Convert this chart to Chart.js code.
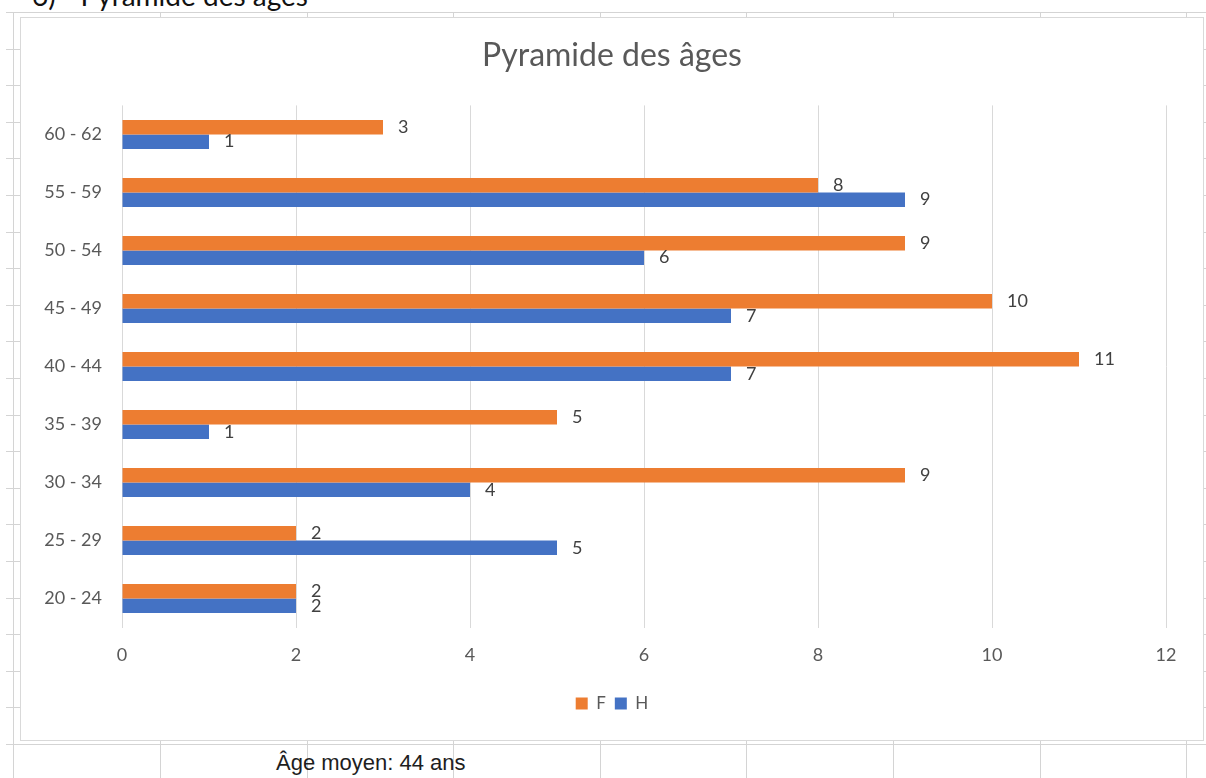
<!DOCTYPE html>
<html>
<head>
<meta charset="utf-8">
<script src="https://cdn.jsdelivr.net/npm/chart.js@4.4.1/dist/chart.umd.min.js"></script>
<style>
  html, body { margin:0; padding:0; }
  body { width:1206px; height:778px; overflow:hidden; background:#ffffff; position:relative; font-family:Lato, sans-serif; }
  .hl { position:absolute; height:1px; background:#d4d4d4; }
  .vl { position:absolute; width:1px; background:#d4d4d4; }
  #heading { position:absolute; left:32px; top:-19px; font-family:Lato, sans-serif; font-size:28px; line-height:28px; color:#111; white-space:nowrap; }
  #box { position:absolute; left:20px; top:17px; width:1182px; height:722px; border:1px solid #d9d9d9; background:#ffffff; }
  #box canvas { display:block; }
  #note { position:absolute; left:276px; top:752px; font-family:"Liberation Sans", Arial, sans-serif; font-size:22px; line-height:22px; color:#1e1e1e; white-space:nowrap; }
</style>
</head>
<body>
<div id="sheet"></div>
<div id="heading">6) - Pyramide des âges</div>
<div id="box"><canvas id="c" width="1182" height="722"></canvas></div>
<div id="note">Âge moyen: 44 ans</div>
<script>
// ---- data ----
const categories = ['60 - 62', '55 - 59', '50 - 54', '45 - 49', '40 - 44', '35 - 39', '30 - 34', '25 - 29', '20 - 24'];
const femmes = [3, 8, 9, 10, 11, 5, 9, 2, 2];
const hommes = [1, 9, 6, 7, 7, 1, 4, 5, 2];
const xTicks = [0, 2, 4, 6, 8, 10, 12];
const seriesNames = ['F', 'H'];
const chartTitle = 'Pyramide des âges';

// ---- spreadsheet background grid ----
(function () {
  const sheet = document.getElementById('sheet');
  for (let k = 0; k < 22; k++) {
    const d = document.createElement('div');
    d.className = 'hl';
    d.style.left = '6px';
    d.style.width = '1200px';
    d.style.top = Math.round(12 + 36.6 * k) + 'px';
    sheet.appendChild(d);
  }
  const cols = [13];
  for (let i = 0; i < 8; i++) cols.push(Math.round(160 + 146.6 * i));
  cols.forEach(function (x) {
    const d = document.createElement('div');
    d.className = 'vl';
    d.style.left = x + 'px';
    d.style.top = '12px';
    d.style.height = '766px';
    sheet.appendChild(d);
  });
})();

// ---- chart ----
Chart.defaults.font.family = 'Lato, sans-serif';

const valueLabels = {
  id: 'valueLabels',
  afterDatasetsDraw(chart) {
    const ctx = chart.ctx;
    ctx.save();
    ctx.font = '18px Lato, sans-serif';
    ctx.fillStyle = '#404040';
    ctx.textAlign = 'left';
    ctx.textBaseline = 'middle';
    chart.data.datasets.forEach(function (ds, i) {
      chart.getDatasetMeta(i).data.forEach(function (bar, j) {
        ctx.fillText(String(ds.data[j]), bar.x + 15, bar.y);
      });
    });
    ctx.restore();
  }
};

new Chart(document.getElementById('c'), {
  type: 'bar',
  data: {
    labels: categories,
    datasets: [
      { label: seriesNames[0], data: femmes, backgroundColor: '#ED7D31', categoryPercentage: 0.5, barPercentage: 1.0 },
      { label: seriesNames[1], data: hommes, backgroundColor: '#4472C4', categoryPercentage: 0.5, barPercentage: 1.0 }
    ]
  },
  options: {
    indexAxis: 'y',
    responsive: false,
    animation: false,
    devicePixelRatio: 1,
    layout: { padding: { left: 0, right: 0, top: 0, bottom: 18 } },
    plugins: {
      title: {
        display: true,
        text: chartTitle,
        color: '#595959',
        font: { family: 'Lato, sans-serif', size: 32, weight: 'normal' },
        padding: { top: 18, bottom: 31 }
      },
      legend: {
        position: 'bottom',
        labels: {
          color: '#595959',
          font: { size: 17 },
          boxWidth: 12,
          boxHeight: 12,
          padding: 9
        }
      },
      tooltip: { enabled: false }
    },
    scales: {
      x: {
        min: 0,
        max: 12,
        afterBuildTicks(axis) { axis.ticks = xTicks.map(function (v) { return { value: v }; }); },
        ticks: { color: '#595959', font: { size: 18 }, padding: 17 },
        grid: { color: '#d9d9d9', drawTicks: false },
        border: { display: false },
        afterFit(s) { s.height = 58.5; }
      },
      y: {
        grid: { display: false, drawTicks: false },
        border: { display: false },
        ticks: { color: '#595959', font: { size: 18 }, padding: 20 },
        afterFit(s) { s.width = 101; }
      },
      yRight: {
        type: 'category',
        axis: 'y',
        position: 'right',
        grid: { display: false, drawTicks: false },
        border: { display: false },
        ticks: { display: false },
        afterFit(s) { s.width = 37; }
      }
    }
  },
  plugins: [valueLabels]
});
</script>
</body>
</html>
